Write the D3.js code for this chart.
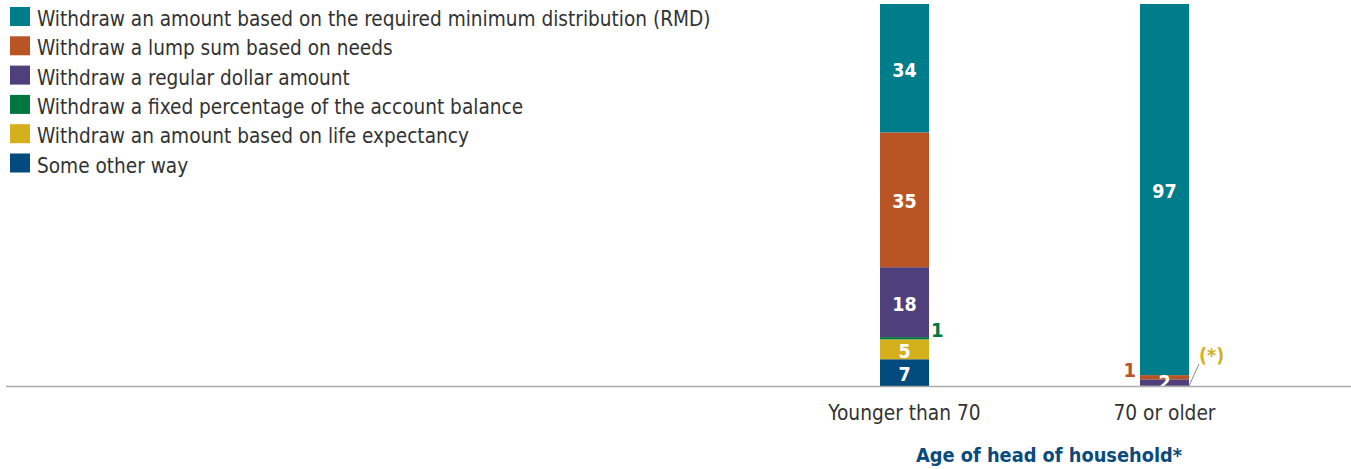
<!DOCTYPE html>
<html>
<head>
<meta charset="utf-8">
<script src="https://cdn.jsdelivr.net/npm/d3@7"></script>
<style>
  body { margin: 0; background: #fff; }
  svg text { font-family: "DejaVu Sans Condensed", "DejaVu Sans", sans-serif; }
</style>
</head>
<body>
<svg id="chart" width="1351" height="469"></svg>
<script>
// categories on the x axis
const ages = ["Younger than 70", "70 or older"];

// series, in stacking order from the bottom up
const methods = [
  "Some other way",
  "Withdraw an amount based on life expectancy",
  "Withdraw a fixed percentage of the account balance",
  "Withdraw a regular dollar amount",
  "Withdraw a lump sum based on needs",
  "Withdraw an amount based on the required minimum distribution (RMD)"
];
const colors = ["#034a7e", "#d4b01c", "#00773f", "#4f3f7b", "#b95525", "#007d8a"];

// percent of households, per series, per age group
const otherWay    = [7, 0];
const lifeExp     = [5.2, 0.05];
const fixedPct    = [0.6, 0];
const regular     = [18.3, 1.7];
const lumpSum     = [35.3, 1.1];
const rmd         = [33.6, 97.15];

// shown value labels (null = not drawn inside)
const labelText = [
  ["7", "5", null, "18", "35", "34"],
  [null, null, null, "2", null, "97"]
];

// legend order, top to bottom
const legendOrder = [5, 4, 3, 2, 1, 0];

const series = [otherWay, lifeExp, fixedPct, regular, lumpSum, rmd];
const table = ages.map((a, i) => {
  const row = { age: a };
  methods.forEach((m, j) => row[m] = series[j][i]);
  return row;
});

const svg = d3.select("#chart");

const x = d3.scaleBand()
  .domain(ages)
  .range([750, 1319])
  .paddingInner(0.8115)
  .paddingOuter(0.5);

const y = d3.scaleLinear()
  .domain([0, 100])
  .range([386, 4]);

const stacked = d3.stack().keys(methods)(table);

// bars
const layers = svg.append("g").selectAll("g")
  .data(stacked)
  .join("g")
  .attr("fill", (d, i) => colors[i]);

layers.selectAll("rect")
  .data(d => d)
  .join("rect")
  .attr("x", d => x(d.data.age))
  .attr("width", x.bandwidth())
  .attr("y", d => y(d[1]))
  .attr("height", d => Math.max(0, y(d[0]) - y(d[1])));

// value labels inside the bars
stacked.forEach((layer, j) => {
  layer.forEach((d, i) => {
    const txt = labelText[i][j];
    if (!txt) return;
    let cy = (y(d[0]) + y(d[1])) / 2 + 1.5;
    if (y(d[0]) - y(d[1]) < 15) cy = y(d[0]) - 4;
    svg.append("text")
      .attr("x", x(d.data.age) + x.bandwidth() / 2)
      .attr("y", cy)
      .attr("dy", "0.36em")
      .attr("text-anchor", "middle")
      .attr("fill", "#fff")
      .attr("font-size", 19.5)
      .attr("font-weight", "bold")
      .text(txt);
  });
});

// labels outside the bars for thin segments
const b0 = x(ages[0]), b1 = x(ages[1]), bw = x.bandwidth();
const fixedTop = stacked[2][0];
svg.append("text")
  .attr("x", b0 + bw + 2)
  .attr("y", y(fixedTop[1]) - 7)
  .attr("dy", "0.36em")
  .attr("fill", colors[2])
  .attr("font-size", 20)
  .attr("font-weight", "bold")
  .text(d3.format(".0f")(fixedPct[0]));

const lumpOld = stacked[4][1];
svg.append("text")
  .attr("x", b1 - 4)
  .attr("y", y(lumpOld[1]) - 5)
  .attr("dy", "0.36em")
  .attr("text-anchor", "end")
  .attr("fill", colors[4])
  .attr("font-size", 20)
  .attr("font-weight", "bold")
  .text(d3.format(".0f")(lumpSum[1]));

// leader line + "(*)" for the negligible life-expectancy share
svg.append("line")
  .attr("x1", b1 + bw)
  .attr("y1", y(0))
  .attr("x2", b1 + bw + 10)
  .attr("y2", y(0) - 22)
  .attr("stroke", "#888")
  .attr("stroke-width", 1);
svg.append("text")
  .attr("x", b1 + bw + 10)
  .attr("y", y(0) - 31)
  .attr("dy", "0.36em")
  .attr("fill", colors[1])
  .attr("font-size", 19.5)
  .attr("font-weight", "bold")
  .text("(*)");

// baseline
svg.append("line")
  .attr("x1", 6)
  .attr("x2", 1351)
  .attr("y1", y(0) + 0.5)
  .attr("y2", y(0) + 0.5)
  .attr("stroke", "#aaa")
  .attr("stroke-width", 1.5);

// x axis labels
const xAxis = svg.append("g")
  .attr("transform", `translate(0,${y(0)})`)
  .call(d3.axisBottom(x).tickSize(0).tickPadding(19));
xAxis.select(".domain").remove();
xAxis.selectAll("text")
  .attr("font-size", 20.7)
  .attr("fill", "#333")
  .style("font-family", "'DejaVu Sans Condensed', sans-serif");

svg.append("text")
  .attr("x", 1049)
  .attr("y", 462)
  .attr("text-anchor", "middle")
  .attr("fill", "#0b4a7c")
  .attr("font-size", 19.8)
  .attr("font-weight", "bold")
  .text("Age of head of household*");

// legend
const legend = svg.append("g").attr("transform", "translate(10,7)");
const item = legend.selectAll("g")
  .data(legendOrder)
  .join("g")
  .attr("transform", (d, i) => `translate(0,${i * 29.3})`);
item.append("rect")
  .attr("width", 20)
  .attr("height", 19)
  .attr("fill", d => colors[d]);
item.append("text")
  .attr("x", 27)
  .attr("y", 19)
  .attr("font-size", 20.6)
  .attr("fill", "#333")
  .text(d => methods[d]);
</script>
</body>
</html>
